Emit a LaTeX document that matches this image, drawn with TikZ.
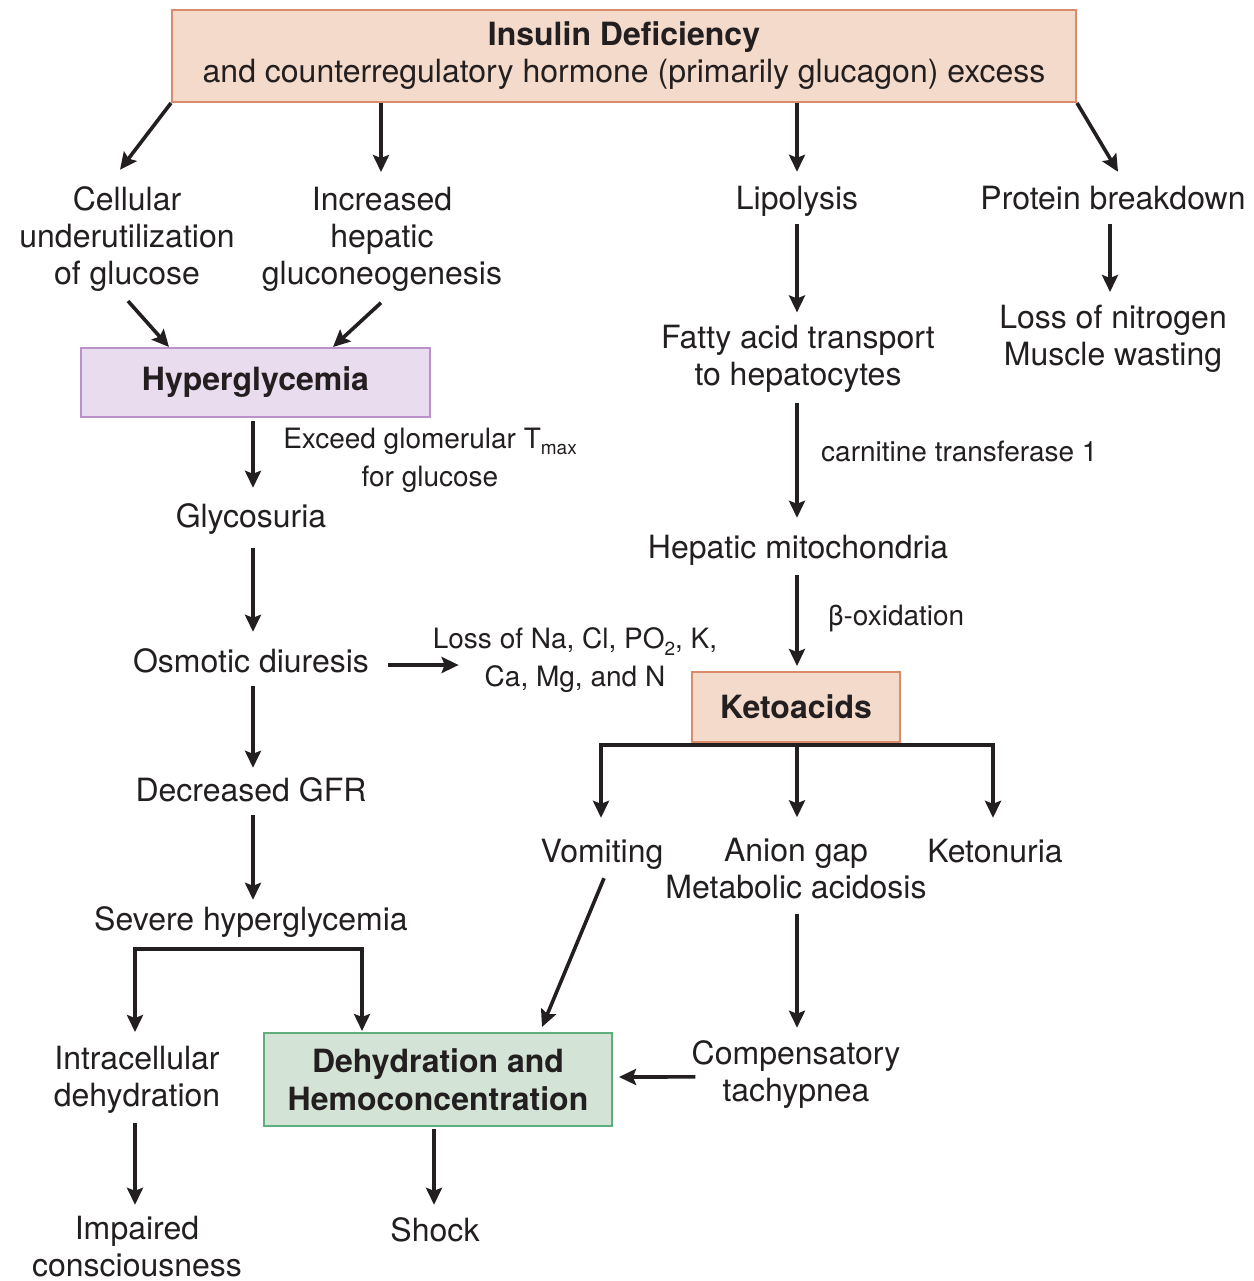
\documentclass[tikz,border=0pt]{standalone}
\usepackage{fontspec}
\setmainfont{TeX Gyre Heros}
\usetikzlibrary{arrows.meta,calc}
\definecolor{peachfill}{HTML}{F3DACA}
\definecolor{peachdraw}{HTML}{D98C6A}
\definecolor{lilacfill}{HTML}{E8DCEE}
\definecolor{lilacdraw}{HTML}{B892C8}
\definecolor{mintfill}{HTML}{D3E4D6}
\definecolor{mintdraw}{HTML}{5FAE7C}
\definecolor{ink}{HTML}{231F20}
\newcommand\lowsub[1]{\raisebox{-0.45ex}{\fontsize{19pt}{19pt}\selectfont #1}}
\begin{document}
\begin{tikzpicture}[x=1pt,y=-1pt,
  txt/.style={inner sep=0pt,align=center,font=\fontsize{32pt}{37pt}\selectfont,text=ink},
  one/.style={txt,text height=23pt,text depth=7pt},
  lbl/.style={inner sep=0pt,align=center,font=\fontsize{28pt}{38pt}\selectfont,text=ink},
  boxnode/.style={draw,line width=2pt,inner sep=0pt,align=center,text=ink},
  arr/.style={line width=3.6pt,draw=ink,-{Stealth[length=17pt,width=16pt,inset=3pt]}}]
\useasboundingbox (0,0) rectangle (1253,1281);
\fill[white] (0,0) rectangle (1253,1281);

% boxes
\node[boxnode,fill=peachfill,draw=peachdraw,minimum width=904pt,minimum height=92pt,
  font=\fontsize{32pt}{37pt}\selectfont] (top) at (624,56)
  {{\bfseries Insulin Deficiency}\\and counterregulatory hormone (primarily glucagon) excess};
\node[boxnode,fill=lilacfill,draw=lilacdraw,minimum width=349pt,minimum height=69pt,
  font=\fontsize{32pt}{37pt}\selectfont\bfseries] (hyper) at (255.5,382.5) {Hyperglycemia};
\node[boxnode,fill=peachfill,draw=peachdraw,minimum width=208pt,minimum height=70pt,
  font=\fontsize{32pt}{37pt}\selectfont\bfseries] (keto) at (796,707) {Ketoacids};
\node[boxnode,fill=mintfill,draw=mintdraw,minimum width=348pt,minimum height=93pt,
  font=\fontsize{32pt}{38pt}\selectfont\bfseries] (dehyd) at (438,1079.5) {Dehydration and\\Hemoconcentration};

% text nodes
\node[txt] (cell) at (127,239.4) {Cellular\\underutilization\\of glucose};
\node[txt] (incr) at (382,239.4) {Increased\\hepatic\\gluconeogenesis};
\node[one] (lipo) at (797,202) {Lipolysis};
\node[one] (prot) at (1113,202) {Protein breakdown};
\node[one] (glyco) at (251,519) {Glycosuria};
\node[lbl] (exceed) at (430,460) {Exceed glomerular T\lowsub{max}\\for glucose};
\node[one] (osm) at (251,664) {Osmotic diuresis};
\node[lbl] (loss) at (575,660) {Loss of Na, Cl, PO\lowsub{2}, K,\\Ca, Mg, and N};
\node[one] (gfr) at (251,793) {Decreased GFR};
\node[one] (severe) at (251,922) {Severe hyperglycemia};
\node[txt] (intra) at (137,1079.9) {Intracellular\\dehydration};
\node[txt] (impaired) at (137,1246.4) {Impaired\\consciousness};
\node[one] (shock) at (435,1233) {Shock};
\node[txt] (fatty) at (798,359.3) {Fatty acid transport\\to hepatocytes};
\node[txt] (nitro) at (1113,338.9) {Loss of nitrogen\\Muscle wasting};
\node[lbl,anchor=base west] (carn) at (821,461) {carnitine transferase 1};
\node[one] (hepmito) at (798,550) {Hepatic mitochondria};
\node[lbl,anchor=base west] (beta) at (828,625) {β-oxidation};
\node[one] (vomit) at (602,854) {Vomiting};
\node[txt] (anion) at (796,868.9) {Anion gap\\Metabolic acidosis};
\node[one] (ketonuria) at (995,854) {Ketonuria};
\node[txt] (comp) at (796,1074.9) {Compensatory\\tachypnea};

% connectors
\draw[arr] (top.south west) -- ($(cell.north)+(-7,-17)$);
\draw[arr] ($(top.south -| incr.north)+(-1,0)$) -- ($(incr.north)+(-1,-15)$);
\draw[arr] (top.south -| lipo.north) -- ($(lipo.north)+(0,-15)$);
\draw[arr] (top.south east) -- ($(prot.north)+(5,-15)$);
\draw[arr] ($(cell.south)+(1,9)$) -- ($(hyper.north west)+(89,0)$);
\draw[arr] ($(incr.south)+(-1,11)$) -- ($(hyper.north east)+(-98,0)$);
\draw[arr] ($(hyper.south -| glyco.north)+(2,3)$) -- ($(glyco.north)+(2,-16)$);
\draw[arr] ($(glyco.south)+(2,14)$) -- ($(osm.north)+(2,-17)$);
\draw[arr] ($(osm.east)+(19,1)$) -- ($(osm.east -| loss.west)+(26,1)$);
\draw[arr] ($(osm.south)+(2,7)$) -- ($(gfr.north)+(2,-10)$);
\draw[arr] ($(gfr.south)+(2,7)$) -- ($(severe.north)+(2,-7)$);
\draw[arr] ($(severe.south)+(0,12)$) -| ($(intra.north)+(-2,-14)$);
\draw[arr] ($(severe.south)+(0,12)$) -| ($(dehyd.north west)+(99,-1)$);
\draw[arr] ($(intra.south)+(-2,9)$) -- ($(impaired.north)+(-2,-11)$);
\draw[arr] ($(dehyd.south)+(-4,2)$) -- ($(shock.north)+(-1,-13)$);
\draw[arr] ($(lipo.south)+(0,7)$) -- ($(fatty.north)+(-1,-13)$);
\draw[arr] ($(prot.south)+(-3,7)$) -- ($(nitro.north)+(-3,-13)$);
\draw[arr] ($(fatty.south)+(-1,9.5)$) -- ($(hepmito.north)+(-1,-17)$);
\draw[arr] ($(hepmito.south)+(-1,10)$) -- ($(keto.north)+(1,-5)$);
\draw[arr] ($(keto.south)+(1,2)$) -| ($(vomit.north)+(-1,-21)$);
\draw[arr] ($(keto.south)+(1,2)$) -| ($(ketonuria.north)+(-2,-21)$);
\draw[arr] ($(keto.south)+(1,2)$) -- ($(anion.north)+(1,-21)$);
\draw[arr] ($(vomit.south)+(2,9)$) -- ($(dehyd.north east)+(-71,-5)$);
\draw[arr] ($(anion.south)+(1,14)$) -- ($(comp.north)+(1,-13)$);
\draw[arr] ($(comp.west)+(4,2)$) -- ($(dehyd.east)+(6,-2.5)$);
\end{tikzpicture}
\end{document}
